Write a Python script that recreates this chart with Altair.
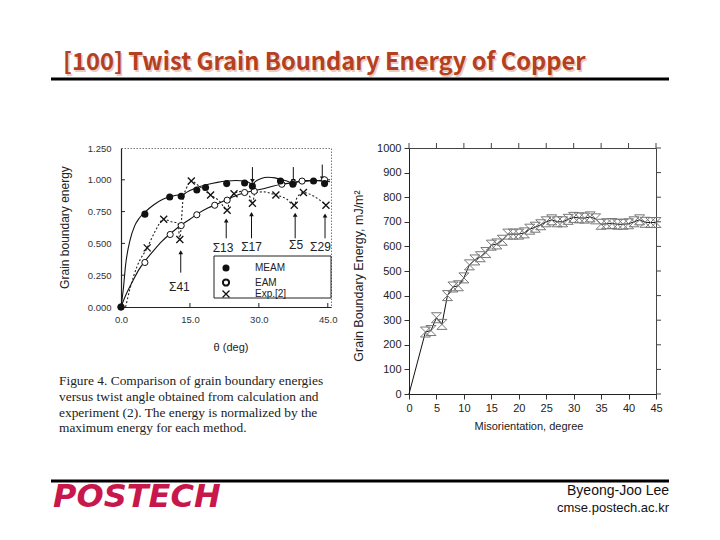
import altair as alt
import pandas as pd

# ---------------- texts ----------------
TITLE = "[100] Twist Grain Boundary Energy of Copper"
CAPTION = [
    "Figure 4. Comparison of grain boundary energies",
    "versus twist angle obtained from calculation and",
    "experiment (2). The energy is normalized by the",
    "maximum energy for each method.",
]

# ---------------- left panel (normalized energy, Fig. 4) ----------------
meam_theta = [0, 5.2, 10.6, 13.1, 16.5, 18.4, 23.0, 26.9, 28.6, 34.7, 37.4, 41.9, 44.3]
meam_energy = [0, 0.73, 0.865, 0.87, 0.92, 0.94, 0.97, 0.975, 0.95, 0.99, 0.965, 0.99, 0.97]

eam_theta = [0, 5.2, 10.7, 13.1, 16.5, 20.4, 23.1, 26.9, 29.0, 35.0, 37.5, 39.4, 44.3]
eam_energy = [0, 0.35, 0.57, 0.64, 0.725, 0.80, 0.84, 0.90, 0.91, 0.965, 0.975, 0.99, 1.0]

exp_theta = [5.7, 9.3, 12.8, 15.3, 19.5, 23.1, 24.6, 28.6, 33.7, 37.7, 39.7, 44.6]
exp_energy = [0.465, 0.69, 0.53, 0.99, 0.88, 0.76, 0.89, 0.815, 0.88, 0.80, 0.90, 0.80]

# fitted curves
meam_fit_theta = [0, 0.5, 1, 2, 3, 4, 5.2, 7, 9, 11, 12.6, 13.1, 13.6, 15, 17, 19, 21, 23, 25, 27,
                  28, 28.6, 29.2, 30.5, 32, 33.5, 35, 36.5, 37.4, 38.3, 40, 42, 44, 45.5]
meam_fit_energy = [0, 0.14, 0.33, 0.53, 0.64, 0.70, 0.745, 0.8, 0.845, 0.87, 0.88, 0.872, 0.885, 0.915,
                   0.945, 0.965, 0.98, 0.99, 0.995, 0.99, 0.975, 0.955, 0.985, 1.01, 1.02, 1.015, 1.0,
                   0.985, 0.965, 0.985, 0.995, 0.995, 0.99, 0.985]
eam_fit_theta = [0, 1, 2.5, 4, 5.2, 7, 9, 10.7, 13.1, 15, 17, 19, 21, 23, 25, 27, 29, 31, 33, 35,
                 37, 39, 41, 43, 45.5]
eam_fit_energy = [0, 0.09, 0.2, 0.3, 0.36, 0.44, 0.52, 0.575, 0.645, 0.69, 0.74, 0.78, 0.81, 0.845,
                  0.875, 0.9, 0.915, 0.93, 0.95, 0.965, 0.975, 0.985, 0.99, 0.995, 1.0]
exp_fit_theta = [1, 2, 3.5, 5.7, 7.5, 9.3, 11, 12.4, 12.8, 13.2, 13.5, 14.2, 15.3, 17, 19.5, 21.5,
                 23.1, 23.6, 24.6, 26.5, 28, 28.6, 29.2, 31, 33.7, 36, 37.7, 38.3, 39.7, 42, 44.6]
exp_fit_energy = [0, 0.15, 0.32, 0.465, 0.6, 0.69, 0.67, 0.66, 0.53, 0.70, 0.85, 0.93, 0.99, 0.95,
                  0.88, 0.83, 0.76, 0.83, 0.89, 0.91, 0.87, 0.815, 0.9, 0.905, 0.88, 0.85, 0.80,
                  0.86, 0.90, 0.87, 0.80]

# Sigma boundaries: arrows and labels
up_theta = [13.0, 22.9, 28.4, 37.9, 44.4]
up_tail = [0.27, 0.54, 0.54, 0.54, 0.54]
up_head = [0.43, 0.68, 0.73, 0.725, 0.72]
down_theta = [28.6, 37.5, 43.8]
down_tail = [1.10, 1.10, 1.12]
down_head = [0.99, 0.99, 1.01]
sigma_labels = ["Σ41", "Σ13", "Σ17", "Σ5", "Σ29"]
sigma_theta = [12.7, 22.2, 28.4, 38.1, 43.4]
sigma_energy = [0.16, 0.465, 0.475, 0.49, 0.475]

left_x_ticks = [0, 15, 30, 45]
left_y_ticks = [0, 0.25, 0.5, 0.75, 1.0, 1.25]
legend_labels = ["MEAM", "EAM", "Exp.[2]"]

# ---------------- right panel (absolute energy) ----------------
misorientation = [0, 3, 4, 5, 6, 7, 8, 9, 10, 11, 12, 13, 14, 15, 16, 17, 18, 19, 20, 21, 22, 23,
                  24, 25, 26, 27, 28, 29, 30, 31, 32, 33, 34, 35, 36, 37, 38, 39, 40, 41, 42, 43,
                  44, 45]
gb_energy = [0, 252, 258, 310, 283, 400, 435, 440, 472, 525, 545, 558, 575, 605, 610, 625, 650,
             650, 650, 655, 670, 678, 688, 700, 708, 700, 700, 710, 718, 716, 715, 720, 712, 690,
             692, 693, 690, 690, 692, 700, 708, 698, 697, 697]
right_x_ticks = list(range(0, 46, 5))
right_y_ticks = list(range(0, 1001, 100))

# ---------------- styling ----------------
SANS = "Liberation Sans"
SERIF = "Liberation Serif"
WL, HL = 210, 159
WR, HR = 247, 246
HOURGLASS = "M-1,-1L1,-1L-1,1L1,1Z"
XMARK = "M-1,-1L1,1M1,-1L-1,1"

lx = alt.Scale(domain=[0, 45.7], nice=False, zero=False)
ly = alt.Scale(domain=[0, 1.25], nice=False)
lx_axis = alt.Axis(values=left_x_ticks, format=".1f", ticks=False, tickSize=0, labelPadding=7,
                   labelFontSize=9.5, labelFont=SANS, labelColor="#333", domainColor="#222",
                   domainWidth=1.2, grid=False, title=None, labelFlush=False)
ly_axis = alt.Axis(values=left_y_ticks, format=".3f", ticks=False, tickSize=0, labelPadding=10,
                   labelFontSize=9.5, labelFont=SANS, labelColor="#333", domainColor="#222",
                   domainWidth=1.2, grid=False, title=None, labelFlush=False)

def LX(f):
    return alt.X(f, type="quantitative", scale=lx, axis=lx_axis)

def LY(f):
    return alt.Y(f, type="quantitative", scale=ly, axis=ly_axis)

df_meam = pd.DataFrame({"t": meam_theta, "e": meam_energy})
df_eam = pd.DataFrame({"t": eam_theta, "e": eam_energy})
df_exp = pd.DataFrame({"t": exp_theta, "e": exp_energy})
df_meam_fit = pd.DataFrame({"t": meam_fit_theta, "e": meam_fit_energy})
df_eam_fit = pd.DataFrame({"t": eam_fit_theta, "e": eam_fit_energy})
df_exp_fit = pd.DataFrame({"t": exp_fit_theta, "e": exp_fit_energy})
df_up = pd.DataFrame({"t": up_theta, "a": up_tail, "b": up_head})
df_down = pd.DataFrame({"t": down_theta, "a": down_tail, "b": down_head})
df_sig = pd.DataFrame({"t": sigma_theta, "e": sigma_energy, "s": sigma_labels})
df_lxt = pd.DataFrame({"t": left_x_ticks[1:]})
df_lyt = pd.DataFrame({"e": left_y_ticks[1:-1]})
one = pd.DataFrame({"k": [0]})

def txt(text, x, y, **kw):
    return alt.Chart(one).mark_text(**kw).encode(x=alt.value(x), y=alt.value(y), text=alt.value(text))

meam_line = alt.Chart(df_meam_fit).mark_line(color="#111", strokeWidth=1.1, interpolate="monotone").encode(x=LX("t"), y=LY("e"))
eam_line = alt.Chart(df_eam_fit).mark_line(color="#111", strokeWidth=1.1, interpolate="monotone").encode(x=LX("t"), y=LY("e"))
exp_line = alt.Chart(df_exp_fit).mark_line(color="#222", strokeWidth=1.1, strokeDash=[2, 2], interpolate="monotone").encode(x=LX("t"), y=LY("e"))
meam_pts = alt.Chart(df_meam).mark_point(shape="circle", filled=True, size=50, color="#111", opacity=1).encode(x=LX("t"), y=LY("e"))
eam_pts = alt.Chart(df_eam).mark_point(shape="circle", filled=False, size=38, color="#111", strokeWidth=1, opacity=1, fill="white", fillOpacity=1).encode(x=LX("t"), y=LY("e"))
exp_pts = alt.Chart(df_exp).mark_point(shape=XMARK, filled=False, size=49, color="#111", strokeWidth=1.3, opacity=1).encode(x=LX("t"), y=LY("e"))

up_rule = alt.Chart(df_up).mark_rule(color="#111", strokeWidth=1).encode(x=LX("t"), y=LY("a"), y2="b")
up_head_m = alt.Chart(df_up).mark_point(shape="triangle-up", filled=True, size=22, color="#111", opacity=1).encode(x=LX("t"), y=LY("b"))
down_rule = alt.Chart(df_down).mark_rule(color="#111", strokeWidth=1).encode(x=LX("t"), y=LY("a"), y2="b")
down_head_m = alt.Chart(df_down).mark_point(shape="triangle-down", filled=True, size=22, color="#111", opacity=1).encode(x=LX("t"), y=LY("b"))
sig_text = alt.Chart(df_sig).mark_text(font=SANS, fontSize=12, color="#222").encode(x=LX("t"), y=LY("e"), text="s")

ltick_x = alt.Chart(df_lxt).mark_rule(color="#222").encode(x=LX("t"), y=alt.value(HL), y2=alt.value(HL - 4))
ltick_y = alt.Chart(df_lyt).mark_rule(color="#222").encode(y=LY("e"), x=alt.value(0), x2=alt.value(4))

legend_box = alt.Chart(one).mark_rect(fill="white", stroke="#222", strokeWidth=1).encode(
    x=alt.value(93), x2=alt.value(210), y=alt.value(108), y2=alt.value(150))
leg1 = alt.Chart(one).mark_point(shape="circle", filled=True, size=50, color="#111", opacity=1).encode(x=alt.value(105), y=alt.value(120))
leg2 = alt.Chart(one).mark_point(shape="circle", filled=False, size=38, color="#111", opacity=1).encode(x=alt.value(105), y=alt.value(134.5))
leg3 = alt.Chart(one).mark_point(shape=XMARK, filled=False, size=49, color="#111", strokeWidth=1.3, opacity=1).encode(x=alt.value(105), y=alt.value(146))
leg_t = [txt(legend_labels[i], 134, [120, 134.5, 146][i], font=SANS, fontSize=10, color="#222", align="left", baseline="middle") for i in range(3)]

# axis titles
l_ytitle = txt("Grain boundary energy", -56, HL / 2, font=SANS, fontSize=12, color="#222", angle=270, align="center", baseline="middle")
l_xtitle = txt("θ (deg)", 110, 200, font=SANS, fontSize=11, color="#222", align="center", baseline="middle")

# page decorations (positioned relative to the left plot)
anchor = alt.Chart(one).mark_rule(color="white", strokeWidth=0.5).encode(x=alt.value(-112), x2=alt.value(-111.5), y=alt.value(-139))
title_shadow = txt(TITLE, -56.5, -83.5, font="Noto Sans CJK KR", fontSize=23.7, fontWeight="bold", color="#EACBC0", align="left", baseline="middle")
title_t = txt(TITLE, -58, -85, font="Noto Sans CJK KR", fontSize=23.7, fontWeight="bold", color="#B5401F", align="left", baseline="middle")
top_line = alt.Chart(one).mark_rule(color="black", strokeWidth=3).encode(x=alt.value(-70), x2=alt.value(548), y=alt.value(-69))
bot_line = alt.Chart(one).mark_rule(color="black", strokeWidth=3).encode(x=alt.value(-70), x2=alt.value(548), y=alt.value(333))
logo = txt("POSTECH", -68, 349, font="DejaVu Sans", fontSize=32, fontWeight="bold", fontStyle="italic", color="#C8174B", align="left", baseline="middle")
author = txt("Byeong-Joo Lee", 548, 343, font=SANS, fontSize=14, color="#111", align="right", baseline="middle")
site = txt("cmse.postech.ac.kr", 548, 360, font=SANS, fontSize=13, color="#111", align="right", baseline="middle")
cap_ys = [233, 249, 264.5, 280]
caption = [txt(CAPTION[i], -62, cap_ys[i], font=SERIF, fontSize=13.4, color="#222", align="left", baseline="middle") for i in range(4)]

left = alt.layer(
    meam_line, eam_line, exp_line, up_rule, up_head_m, down_rule, down_head_m,
    eam_pts, meam_pts, exp_pts, sig_text, ltick_x, ltick_y,
    legend_box, leg1, leg2, leg3, *leg_t, l_ytitle, l_xtitle,
    anchor, title_shadow, title_t, top_line, bot_line, logo, author, site, *caption,
).properties(width=WL, height=HL, view=alt.ViewBackground(stroke="#777", strokeDash=[1.5, 1.5], strokeWidth=1))

# ---------------- right chart ----------------
rx = alt.Scale(domain=[0, 45], nice=False)
ry = alt.Scale(domain=[0, 1000], nice=False)
rx_axis = alt.Axis(values=right_x_ticks, tickSize=5, tickColor="#333", labelPadding=3, labelFontSize=11,
                   labelFont=SANS, labelColor="#222", domainColor="#222", grid=False, title=None,
                   labelFlush=False, format="d")
ry_axis = alt.Axis(values=right_y_ticks, tickSize=5, tickColor="#333", labelPadding=3, labelFontSize=11,
                   labelFont=SANS, labelColor="#222", domainColor="#222", grid=False, title=None,
                   labelFlush=False, format="d")

def RX(f):
    return alt.X(f, type="quantitative", scale=rx, axis=rx_axis)

def RY(f):
    return alt.Y(f, type="quantitative", scale=ry, axis=ry_axis)

df_r = pd.DataFrame({"m": misorientation, "g": gb_energy})
df_rxt = pd.DataFrame({"m": right_x_ticks})
df_ryt = pd.DataFrame({"g": right_y_ticks})

r_line = alt.Chart(df_r).mark_line(color="#111", strokeWidth=1).encode(x=RX("m"), y=RY("g"))
r_pts = alt.Chart(df_r).transform_filter("datum.m > 0").mark_point(
    shape=HOURGLASS, filled=False, size=100, color="#777", strokeWidth=1, opacity=1).encode(x=RX("m"), y=RY("g"))
r_top = alt.Chart(df_rxt).mark_rule(color="#444").encode(x=RX("m"), y=alt.value(0), y2=alt.value(-5))
r_right = alt.Chart(df_ryt).mark_rule(color="#444").encode(y=RY("g"), x=alt.value(WR), x2=alt.value(WR + 5))
r_ytitle = txt("Grain Boundary Energy, mJ/m²", -50, 128, font=SANS, fontSize=12.5, color="#222", angle=270, align="center", baseline="middle")
r_xtitle = txt("Misorientation, degree", 120, 279, font=SANS, fontSize=11, color="#222", align="center", baseline="middle")

right = alt.layer(r_line, r_pts, r_top, r_right, r_ytitle, r_xtitle).properties(
    width=WR, height=HR, view=alt.ViewBackground(stroke="#444", strokeWidth=1))

chart = alt.hconcat(left, right, spacing=78, bounds="flush").properties(
    padding=0, background="white"
).configure(font=SANS)

chart.save("out.html", embed_options={"renderer": "svg", "actions": False})
